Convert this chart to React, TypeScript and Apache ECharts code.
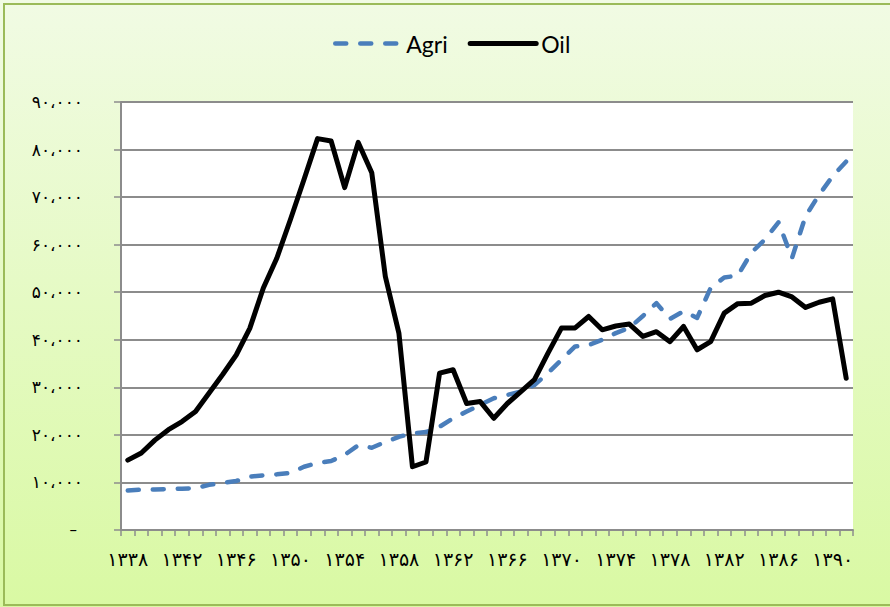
import React, { useEffect, useRef } from 'react';
import * as echarts from 'echarts';

const years = [
  '۱۳۳۸', '۱۳۳۹', '۱۳۴۰', '۱۳۴۱', '۱۳۴۲', '۱۳۴۳', '۱۳۴۴', '۱۳۴۵', '۱۳۴۶', '۱۳۴۷',
  '۱۳۴۸', '۱۳۴۹', '۱۳۵۰', '۱۳۵۱', '۱۳۵۲', '۱۳۵۳', '۱۳۵۴', '۱۳۵۵', '۱۳۵۶', '۱۳۵۷',
  '۱۳۵۸', '۱۳۵۹', '۱۳۶۰', '۱۳۶۱', '۱۳۶۲', '۱۳۶۳', '۱۳۶۴', '۱۳۶۵', '۱۳۶۶', '۱۳۶۷',
  '۱۳۶۸', '۱۳۶۹', '۱۳۷۰', '۱۳۷۱', '۱۳۷۲', '۱۳۷۳', '۱۳۷۴', '۱۳۷۵', '۱۳۷۶', '۱۳۷۷',
  '۱۳۷۸', '۱۳۷۹', '۱۳۸۰', '۱۳۸۱', '۱۳۸۲', '۱۳۸۳', '۱۳۸۴', '۱۳۸۵', '۱۳۸۶', '۱۳۸۷',
  '۱۳۸۸', '۱۳۸۹', '۱۳۹۰', '۱۳۹۱',
];

const agri = [
  8300, 8500, 8500, 8600, 8700, 8800, 9500, 9900, 10300, 11200,
  11500, 11700, 12000, 13300, 14100, 14500, 15800, 17800, 17300, 18500,
  19600, 20300, 20600, 21700, 23500, 24900, 26300, 27700, 28400, 29100,
  30500, 33000, 35800, 38600, 38900, 40000, 41400, 42500, 45000, 47700,
  44400, 46000, 44600, 50900, 53100, 53500, 58300, 61100, 64700, 57200,
  66000, 70500, 74400, 77500,
];

const oil = [
  14700, 16200, 18900, 21100, 22800, 24900, 28800, 32700, 36800, 42400,
  50900, 57200, 65300, 73700, 82300, 81800, 72000, 81500, 75100, 53300,
  41400, 13300, 14300, 33000, 33700, 26600, 27000, 23500, 26600, 29100,
  31600, 37200, 42500, 42500, 44900, 42100, 42900, 43300, 40700, 41700,
  39600, 42800, 37900, 39600, 45600, 47600, 47700, 49300, 50000, 49000,
  46800, 47900, 48600, 31900,
];

const yTickLabels = [
  '–', '۱۰،۰۰۰', '۲۰،۰۰۰', '۳۰،۰۰۰', '۴۰،۰۰۰', '۵۰،۰۰۰', '۶۰،۰۰۰', '۷۰،۰۰۰', '۸۰،۰۰۰', '۹۰،۰۰۰',
];

export default function App() {
  const ref = useRef<HTMLDivElement>(null);
  useEffect(() => {
    const chart = echarts.init(ref.current!, null, { renderer: 'svg' });
    chart.setOption({
      animation: false,
      backgroundColor: new echarts.graphic.LinearGradient(0, 0, 0, 1, [
        { offset: 0, color: '#f1fbe4' },
        { offset: 1, color: '#d9f9a3' },
      ]),
      graphic: [
        {
          type: 'rect',
          shape: { x: 4, y: 4, width: 900, height: 601 },
          style: { fill: 'none', stroke: '#9bbb59', lineWidth: 2 },
          silent: true,
        },
      ],
      legend: {
        data: ['Agri', 'Oil'],
        left: 328,
        top: 27,
        itemWidth: 66,
        itemHeight: 14,
        itemGap: 20,
        itemStyle: { opacity: 0 },
        lineStyle: { width: 'inherit' },
        textStyle: { fontFamily: 'Lato', fontSize: 23, color: '#000' },
      },
      grid: {
        left: 121,
        right: 37,
        top: 102,
        bottom: 77,
        show: true,
        backgroundColor: '#ffffff',
        borderWidth: 0,
      },
      xAxis: {
        type: 'category',
        data: years,
        boundaryGap: true,
        axisLine: { show: true, lineStyle: { color: '#8c8c8c', width: 2 } },
        axisTick: { show: true, interval: 0, length: 6, lineStyle: { color: '#8c8c8c', width: 1.5 } },
        axisLabel: {
          interval: 3,
          margin: 19,
          fontSize: 19,
          color: '#000',
          fontFamily: 'DejaVu Sans',
        },
        splitLine: { show: false },
      },
      yAxis: {
        type: 'value',
        min: 0,
        max: 90000,
        interval: 10000,
        axisLine: { show: true, lineStyle: { color: '#8c8c8c', width: 2 } },
        axisTick: { show: true, length: 7, lineStyle: { color: '#8c8c8c', width: 1.5 } },
        axisLabel: {
          margin: 38,
          fontSize: 17,
          color: '#000',
          fontFamily: 'DejaVu Sans',
          formatter: (v: number) => {
            const idx = Math.round(v / 10000);
            return idx === 0 ? '{z|' + yTickLabels[0] + '}' : yTickLabels[idx];
          },
          rich: { z: { padding: [0, 6, 0, 0], fontSize: 15, color: '#000' } },
        },
        splitLine: { show: true, lineStyle: { color: '#8c8c8c', width: 2 } },
      },
      series: [
        {
          name: 'Agri',
          type: 'line',
          data: agri,
          symbol: 'none',
          lineStyle: { color: '#4a7ebb', width: 4.5, type: [11, 14], cap: 'round', join: 'round' },
          itemStyle: { color: '#4a7ebb' },
          z: 3,
        },
        {
          name: 'Oil',
          type: 'line',
          data: oil,
          symbol: 'none',
          lineStyle: { color: '#000000', width: 5, join: 'round', cap: 'round' },
          itemStyle: { color: '#000000' },
          z: 4,
        },
      ],
    });
    return () => chart.dispose();
  }, []);
  return (
    <div
      ref={ref}
      style={{ position: 'absolute', left: 0, top: 0, width: 890, height: 607 }}
    />
  );
}
